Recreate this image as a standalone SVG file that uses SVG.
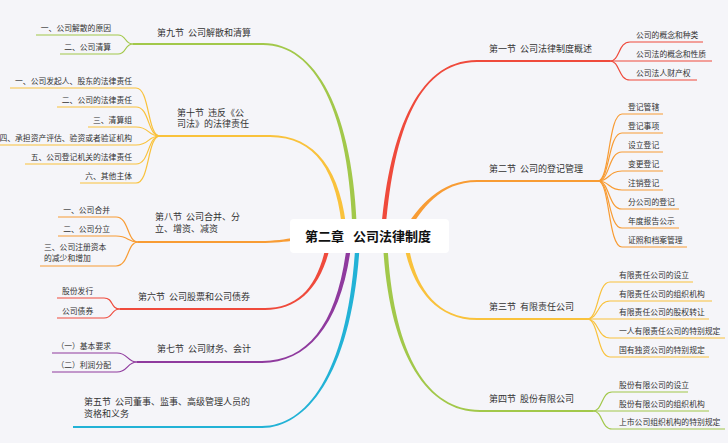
<svg xmlns="http://www.w3.org/2000/svg" width="728" height="443" viewBox="0 0 728 443">
<style>
text{font-family:"Noto Sans CJK SC","Noto Sans",sans-serif;fill:#333;white-space:pre}
.t{font-size:9px}
.c{font-size:7.8px}
.e{text-anchor:end}
.ctr{font-size:13px;font-weight:bold;fill:#111}
.ul{fill:none;stroke-width:1.8}
.ch{fill:none;stroke-width:1.2}
.red{stroke:#ef4a3c}.redf{fill:#ef4a3c}
.org{stroke:#f89c34}.orgf{fill:#f89c34}
.yel{stroke:#f9c23c}.yelf{fill:#f9c23c}
.grn{stroke:#a2c84a}.grnf{fill:#a2c84a}
.pur{stroke:#8f3a9e}.purf{fill:#8f3a9e}
.cyn{stroke:#22b2d6}.cynf{fill:#22b2d6}
</style>
<rect width="728" height="443" fill="#f5f5f9"/>
<g id="connectors">
  <!-- main branches (tapered) -->
  <path class="redf" d="M380.8,236 C387.8,140 415,60 477,60 L477,62 C415,62 392.2,140 385.2,236 Z"/>
  <path class="orgf" d="M403,231 C418,207 440,180 477,180 L477,182 C440,182 422,209 407,233 Z"/>
  <path class="yelf" d="M402.8,236 C407.8,280 432,320 477,320 L477,318 C432,318 412.2,280 407.2,236 Z"/>
  <path class="grnf" d="M382.8,240 C387.8,350 425,412 480,412 L480,410 C425,410 392.2,350 387.2,240 Z"/>
  <path class="grnf" d="M357.2,236 C354.2,110 315,43 263,43 L263,45 C315,45 349.8,110 352.8,236 Z"/>
  <path class="yelf" d="M347.2,236 C342.2,170 315,135 270,135 L270,137 C315,137 337.8,170 342.8,236 Z"/>
  <path class="orgf" d="M330,234 C300,234 290,241 260,241 L260,243 C290,243 300,238 330,238 Z"/>
  <path class="redf" d="M332.2,236 C324.2,285 300,310 265,310 L265,308 C300,308 319.8,285 327.8,236 Z"/>
  <path class="purf" d="M352.2,236 C344.2,320 310,363 262,363 L262,361 C310,361 339.8,320 347.8,236 Z"/>
  <path class="cynf" d="M360.2,236 C354.2,370 308,428 262,428 L262,426 C308,426 349.8,370 355.8,236 Z"/>
  <!-- main topic underlines -->
  <path class="ul red" d="M477,61 H610"/>
  <path class="ul org" d="M477,181 H598"/>
  <path class="ul yel" d="M477,319 H587"/>
  <path class="ul grn" d="M480,411 H593"/>
  <path class="ul grn" d="M263,44 H133"/>
  <path class="ul yel" d="M270,136 H160"/>
  <path class="ul org" d="M260,242 H138"/>
  <path class="ul red" d="M265,309 H120"/>
  <path class="ul pur" d="M262,362 H137"/>
  <path class="ul cyn" d="M262,427 H73"/>
  <!-- children: section 1 -->
  <path class="ch red" d="M610,61 C620,61 618,42 630,42 L703,42"/>
  <path class="ch red" d="M610,61 L712,61"/>
  <path class="ch red" d="M610,61 C620,61 618,80 630,80 L697,80"/>
  <!-- section 2 -->
  <path class="ch org" d="M598,181 C610,181 608,114 622,114 L663,114"/>
  <path class="ch org" d="M598,181 C610,181 608,133 622,133 L663,133"/>
  <path class="ch org" d="M598,181 C610,181 608,152 622,152 L663,152"/>
  <path class="ch org" d="M598,181 C610,181 608,171 622,171 L663,171"/>
  <path class="ch org" d="M598,181 C610,181 608,190 622,190 L663,190"/>
  <path class="ch org" d="M598,181 C610,181 608,209 622,209 L679,209"/>
  <path class="ch org" d="M598,181 C610,181 608,228 622,228 L679,228"/>
  <path class="ch org" d="M598,181 C610,181 608,247 622,247 L687,247"/>
  <!-- section 3 -->
  <path class="ch yel" d="M587,319 C599,319 597,282 610,282 L693,282"/>
  <path class="ch yel" d="M587,319 C599,319 597,301 610,301 L712,301"/>
  <path class="ch yel" d="M587,319 L709,319"/>
  <path class="ch yel" d="M587,319 C599,319 597,338 610,338 L725,338"/>
  <path class="ch yel" d="M587,319 C599,319 597,357 610,357 L709,357"/>
  <!-- section 4 -->
  <path class="ch grn" d="M593,411 C603,411 601,392 612,392 L688,392"/>
  <path class="ch grn" d="M593,411 L709,411"/>
  <path class="ch grn" d="M593,411 C603,411 601,429 612,429 L725,429"/>
  <!-- section 9 -->
  <path class="ch grn" d="M133,44 C124,44 127,35 118,35 L36,35"/>
  <path class="ch grn" d="M133,44 C124,44 127,54 118,54 L60,54"/>
  <!-- section 10 -->
  <path class="ch yel" d="M160,136 C147,136 150,88 136,88 L10,88"/>
  <path class="ch yel" d="M160,136 C147,136 150,107 136,107 L57,107"/>
  <path class="ch yel" d="M160,136 C147,136 150,127 136,127 L88,127"/>
  <path class="ch yel" d="M160,136 C147,136 150,145 136,145 L0,145"/>
  <path class="ch yel" d="M160,136 C147,136 150,164 136,164 L25,164"/>
  <path class="ch yel" d="M160,136 C147,136 150,183 136,183 L80,183"/>
  <!-- section 8 -->
  <path class="ch org" d="M138,242 C127,242 129,217 116,217 L58,217"/>
  <path class="ch org" d="M138,242 C127,242 129,236 116,236 L58,236"/>
  <path class="ch org" d="M138,242 C127,242 129,266 116,266 L40,266"/>
  <!-- section 6 -->
  <path class="ch red" d="M120,309 C110,309 114,298 104,298 L57,298"/>
  <path class="ch red" d="M120,309 C110,309 114,318 104,318 L57,318"/>
  <!-- section 7 -->
  <path class="ch pur" d="M137,362 C127,362 128,353 117,353 L52,353"/>
  <path class="ch pur" d="M137,362 C127,362 128,372 117,372 L52,372"/>
</g>
<g id="center">
  <rect x="290" y="219" width="159" height="34" rx="4" fill="#fff"/>
  <text class="ctr" x="305" y="240.6">第二章</text>
  <text class="ctr" x="353" y="240.6">公司法律制度</text>
</g>
<g id="s1">
  <text class="t" x="489" y="52.3">第一节  公司法律制度概述</text>
  <text class="c" x="636" y="37.5">公司的概念和种类</text>
  <text class="c" x="636" y="56.5">公司法的概念和性质</text>
  <text class="c" x="636" y="75.5">公司法人财产权</text>
</g>
<g id="s2">
  <text class="t" x="489" y="172.3">第二节  公司的登记管理</text>
  <text class="c" x="628" y="109.5">登记管辖</text>
  <text class="c" x="628" y="128.5">登记事项</text>
  <text class="c" x="628" y="147.5">设立登记</text>
  <text class="c" x="628" y="166.5">变更登记</text>
  <text class="c" x="628" y="185.5">注销登记</text>
  <text class="c" x="628" y="204.5">分公司的登记</text>
  <text class="c" x="628" y="223.5">年度报告公示</text>
  <text class="c" x="628" y="242.5">证照和档案管理</text>
</g>
<g id="s3">
  <text class="t" x="489" y="310.3">第三节  有限责任公司</text>
  <text class="c" x="619" y="277.5">有限责任公司的设立</text>
  <text class="c" x="619" y="296.5">有限责任公司的组织机构</text>
  <text class="c" x="619" y="314.5">有限责任公司的股权转让</text>
  <text class="c" x="619" y="333.5">一人有限责任公司的特别规定</text>
  <text class="c" x="619" y="352.5">国有独资公司的特别规定</text>
</g>
<g id="s4">
  <text class="t" x="489" y="401.8">第四节  股份有限公司</text>
  <text class="c" x="619" y="387.5">股份有限公司的设立</text>
  <text class="c" x="619" y="406.5">股份有限公司的组织机构</text>
  <text class="c" x="619" y="424.5">上市公司组织机构的特别规定</text>
</g>
<g id="s9">
  <text class="t" x="157" y="36.3">第九节  公司解散和清算</text>
  <text class="c e" x="111" y="30.5">一、公司解散的原因</text>
  <text class="c e" x="111" y="49.5">二、公司清算</text>
</g>
<g id="s10">
  <text class="t" x="177" y="115.8">第十节  违反《公</text>
  <text class="t" x="177" y="127.3">司法》的法律责任</text>
  <text class="c e" x="132" y="84">一、公司发起人、股东的法律责任</text>
  <text class="c e" x="132" y="103">二、公司的法律责任</text>
  <text class="c e" x="132" y="122.5">三、清算组</text>
  <text class="c e" x="132" y="141">四、承担资产评估、验资或者验证机构</text>
  <text class="c e" x="132" y="160">五、公司登记机关的法律责任</text>
  <text class="c e" x="132" y="179">六、其他主体</text>
</g>
<g id="s8">
  <text class="t" x="155" y="220">第八节  公司合并、分</text>
  <text class="t" x="155" y="232">立、增资、减资</text>
  <text class="c e" x="110" y="212.5">一、公司合并</text>
  <text class="c e" x="110" y="231.5">二、公司分立</text>
  <text class="c" x="44" y="250">三、公司注册资本</text>
  <text class="c" x="44" y="261">的减少和增加</text>
</g>
<g id="s6">
  <text class="t" x="138" y="300.3">第六节  公司股票和公司债券</text>
  <text class="c" x="62" y="293.5">股份发行</text>
  <text class="c" x="62" y="313.5">公司债券</text>
</g>
<g id="s7">
  <text class="t" x="157" y="352.3">第七节  公司财务、会计</text>
  <text class="c e" x="111" y="348.5">（一）基本要求</text>
  <text class="c e" x="111" y="367.5">（二）利润分配</text>
</g>
<g id="s5">
  <text class="t" x="84" y="405.3">第五节  公司董事、监事、高级管理人员的</text>
  <text class="t" x="84" y="417.3">资格和义务</text>
</g>
</svg>
